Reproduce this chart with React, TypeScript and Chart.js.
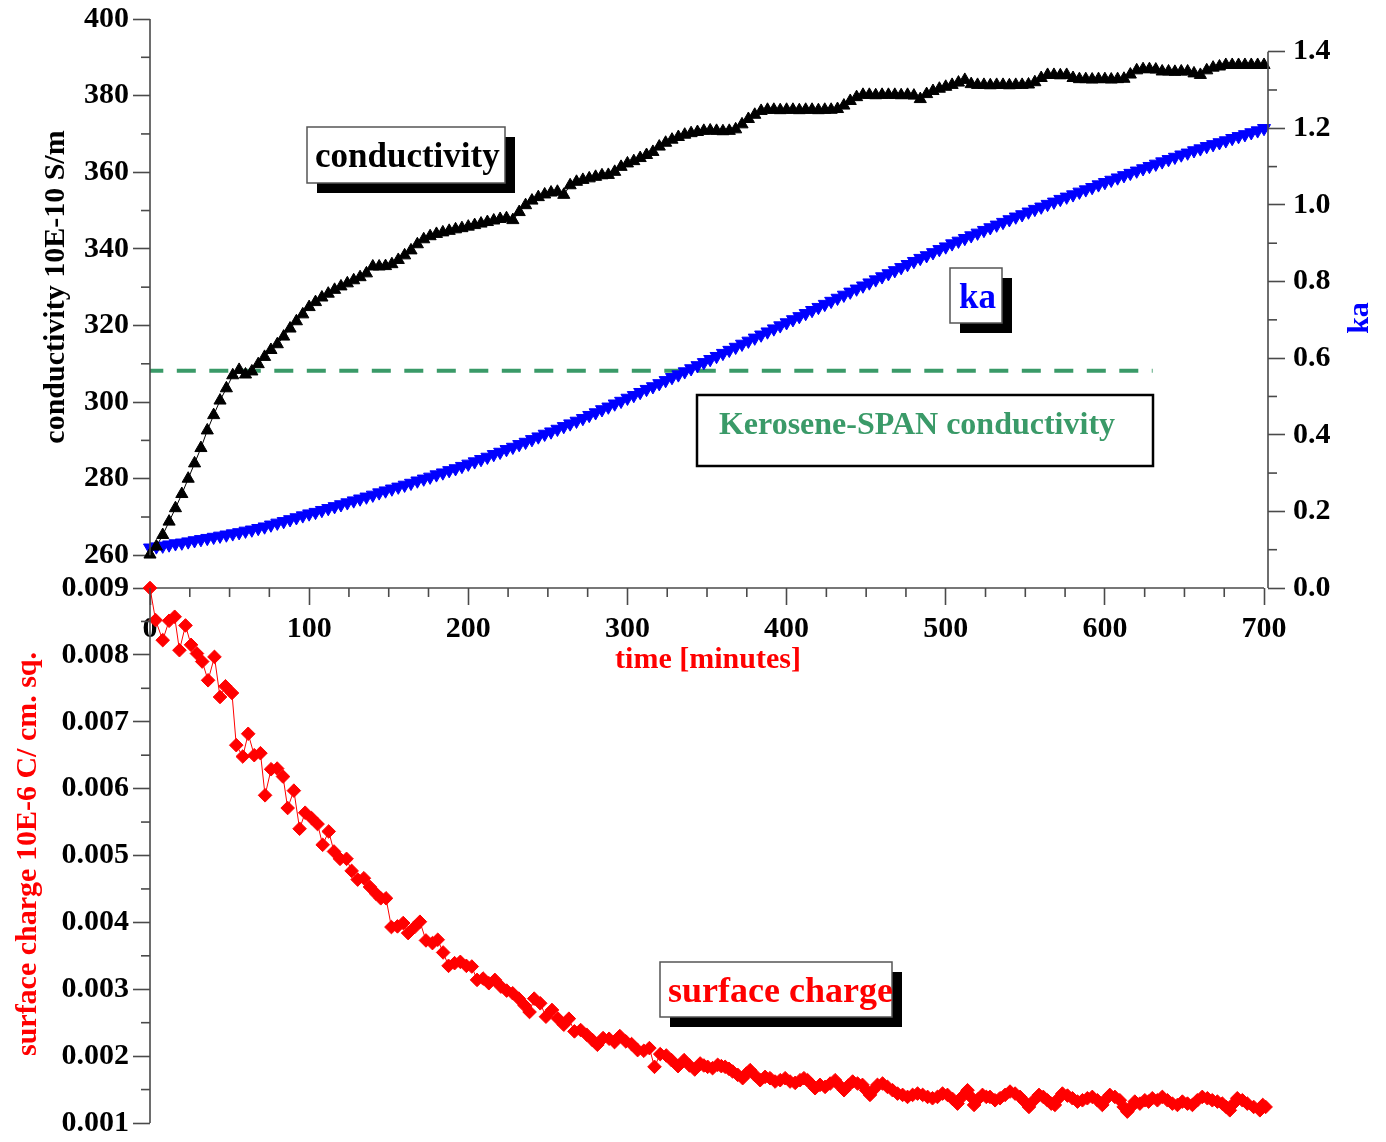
import React, { useEffect, useRef } from "react";
import { Chart, registerables } from "chart.js";

Chart.register(...registerables);

const W = 1386;
const H = 1142;
const SERIF = "'Liberation Serif', 'Times New Roman', Times, serif";
const AXIS_COLOR = "#4a4a4a";
const GREEN = "#3a9a68";

// ---------------- data ----------------
const TIME_MIN = [
  0, 4, 8, 12, 16, 20, 24, 28, 32, 36,
  40, 44, 48, 52, 56, 60, 64, 68, 72, 76,
  80, 84, 88, 92, 96, 100, 104, 108, 112, 116,
  120, 124, 128, 132, 136, 140, 144, 148, 152, 156,
  160, 164, 168, 172, 176, 180, 184, 188, 192, 196,
  200, 204, 208, 212, 216, 220, 224, 228, 232, 236,
  240, 244, 248, 252, 256, 260, 264, 268, 272, 276,
  280, 284, 288, 292, 296, 300, 304, 308, 312, 316,
  320, 324, 328, 332, 336, 340, 344, 348, 352, 356,
  360, 364, 368, 372, 376, 380, 384, 388, 392, 396,
  400, 404, 408, 412, 416, 420, 424, 428, 432, 436,
  440, 444, 448, 452, 456, 460, 464, 468, 472, 476,
  480, 484, 488, 492, 496, 500, 504, 508, 512, 516,
  520, 524, 528, 532, 536, 540, 544, 548, 552, 556,
  560, 564, 568, 572, 576, 580, 584, 588, 592, 596,
  600, 604, 608, 612, 616, 620, 624, 628, 632, 636,
  640, 644, 648, 652, 656, 660, 664, 668, 672, 676,
  680, 684, 688, 692, 696, 700,
];

const CONDUCTIVITY = [
  260.2, 262.3, 265.3, 268.8, 272.3, 276.0, 280.0, 284.0, 288.0, 292.6,
  296.6, 300.4, 303.6, 307.0, 308.4, 307.2, 308.0, 309.9, 311.8, 313.6,
  315.1, 317.1, 319.2, 321.1, 322.9, 324.8, 326.1, 327.3, 328.3, 329.3,
  330.2, 331.0, 331.8, 332.6, 333.6, 335.4, 335.4, 335.5, 336.0, 337.1,
  338.3, 339.6, 341.2, 342.5, 343.3, 343.9, 344.3, 344.7, 345.1, 345.4,
  345.8, 346.2, 346.6, 347.0, 347.4, 347.8, 348.0, 347.5, 349.6, 351.4,
  352.6, 353.5, 354.2, 354.7, 354.9, 354.1, 356.6, 357.5, 358.0, 358.4,
  358.8, 359.2, 359.3, 360.1, 361.4, 362.3, 362.9, 363.7, 364.5, 365.3,
  366.7, 367.7, 368.5, 369.2, 369.8, 370.2, 370.5, 370.8, 370.9, 370.8,
  370.7, 370.8, 371.2, 372.5, 373.9, 375.0, 376.0, 376.3, 376.3, 376.2,
  376.3, 376.3, 376.2, 376.3, 376.3, 376.2, 376.3, 376.3, 376.5, 377.4,
  378.6, 379.6, 380.2, 380.2, 380.1, 380.2, 380.2, 380.2, 380.1, 380.2,
  380.0, 379.1, 380.4, 381.2, 381.8, 382.3, 382.8, 383.4, 384.1, 383.0,
  382.8, 382.8, 382.7, 382.8, 382.8, 382.7, 382.8, 382.8, 382.9, 383.5,
  384.6, 385.4, 385.4, 385.3, 385.4, 384.6, 384.3, 384.3, 384.2, 384.3,
  384.3, 384.2, 384.3, 384.4, 385.5, 386.6, 386.9, 386.9, 386.8, 386.3,
  386.3, 386.2, 386.3, 386.3, 385.8, 385.4, 386.6, 387.3, 387.6, 388.0,
  388.0, 388.0, 388.0, 388.0, 388.0, 388.0,
];

const KA = [
  0.105, 0.108, 0.110, 0.113, 0.116, 0.118, 0.121, 0.124, 0.127, 0.130,
  0.133, 0.136, 0.139, 0.142, 0.145, 0.149, 0.152, 0.156, 0.160, 0.165,
  0.170, 0.174, 0.179, 0.184, 0.189, 0.194, 0.198, 0.203, 0.208, 0.213,
  0.218, 0.223, 0.228, 0.233, 0.238, 0.243, 0.249, 0.254, 0.259, 0.264,
  0.269, 0.274, 0.280, 0.285, 0.290, 0.296, 0.301, 0.307, 0.312, 0.318,
  0.324, 0.330, 0.336, 0.342, 0.349, 0.355, 0.362, 0.368, 0.375, 0.381,
  0.388, 0.395, 0.402, 0.408, 0.415, 0.422, 0.429, 0.436, 0.443, 0.451,
  0.458, 0.466, 0.473, 0.481, 0.488, 0.496, 0.503, 0.511, 0.519, 0.526,
  0.534, 0.542, 0.550, 0.557, 0.565, 0.573, 0.581, 0.589, 0.597, 0.605,
  0.613, 0.621, 0.629, 0.637, 0.645, 0.653, 0.661, 0.669, 0.677, 0.685,
  0.693, 0.701, 0.709, 0.717, 0.725, 0.733, 0.741, 0.749, 0.757, 0.765,
  0.773, 0.781, 0.789, 0.797, 0.805, 0.813, 0.821, 0.829, 0.837, 0.845,
  0.853, 0.861, 0.868, 0.876, 0.884, 0.891, 0.899, 0.906, 0.913, 0.920,
  0.927, 0.934, 0.941, 0.948, 0.955, 0.962, 0.969, 0.975, 0.982, 0.989,
  0.995, 1.002, 1.008, 1.015, 1.021, 1.027, 1.034, 1.040, 1.046, 1.053,
  1.059, 1.065, 1.071, 1.077, 1.083, 1.089, 1.095, 1.101, 1.107, 1.113,
  1.119, 1.125, 1.131, 1.136, 1.142, 1.147, 1.153, 1.158, 1.163, 1.168,
  1.174, 1.179, 1.184, 1.189, 1.194, 1.200,
];

const SC_TIME_MIN = [
  0, 3.5, 8, 12, 15.5, 18.5, 22.3, 25.8, 29.5, 32.8,
  36.5, 40.5, 44, 47.4, 51.5, 54.2, 58.3, 61.7, 65.5, 69.4,
  72.3, 76.1, 79.9, 83.6, 86.5, 90.4, 94, 97.5, 101.5, 105.3,
  108.5, 112.3, 115.6, 119.4, 123.5, 126.7, 130.5, 134.4, 138.2, 142,
  145, 148.3, 151.7, 155.5, 159.1, 162.2, 166.3, 169.6, 173.4, 177.5,
  180.8, 184.2, 187.6, 191.4, 195, 198.8, 202.2, 205.5, 209.3, 212.9,
  216.7, 220.5, 224.1, 227.9, 231.7, 235.3, 238.5, 241.4, 245.2, 248.8,
  252.6, 256.4, 260, 263.2, 266.7, 270.6, 274.4, 278, 281.1, 284.7,
  288.5, 291.9, 295.2, 299, 302.6, 306.4, 310.3, 313.8, 317, 320.6,
  324.4, 327.7, 331.8, 335.6, 339, 342.3,
  345.7, 348, 350.4, 353.5, 356.7, 359, 361.4, 363.8, 366.1, 369.3,
  372.4, 374.8, 377.1, 380.3, 383.4, 386.5, 389.6, 392.8, 396, 399.1,
  402.2, 405.4, 408.5, 410.9, 413.2, 415.6, 417.9, 421, 424.2, 427.4,
  430.5, 433.3, 436.1, 438.8, 441.5, 444.6, 447.7, 450, 452.4, 454.8,
  457.1, 460.3, 463.4, 466.6, 469.7, 472.9, 476, 479.2, 482.3, 485.5,
  488.6, 491.7, 494.8, 498, 501.1, 504.3, 507.4, 510.6, 513.7, 515.8,
  517.8, 520.5, 523.1, 525.5, 527.8, 531, 534.1, 537.3, 540.4, 543.6,
  546.7, 549.5, 552.3, 555.5, 558.6, 561.3, 563.9, 566.3, 568.6, 571,
  573.3, 576.5, 579.6, 582.8, 585.9, 589, 592.1, 595.3, 598.4, 600.8,
  603.1, 606.3, 609.4, 611.8, 614.1, 616.5, 618.8, 622, 625.1, 627.5,
  629.8, 633, 636.1, 639.3, 642.4, 645.6, 648.7, 651.9, 655, 658.1,
  661.2, 664.4, 667.5, 670.7, 673.8, 676.2, 678.5, 680.9, 683.2, 686.4,
  689.5, 693.5, 697.4, 699.2, 701,
];

const SURFACE_CHARGE = [
  0.00900, 0.00852, 0.00822, 0.00851, 0.00857, 0.00807, 0.00844, 0.00815, 0.00802, 0.00790,
  0.00762, 0.00797, 0.00737, 0.00753, 0.00743, 0.00665, 0.00648, 0.00682, 0.00650, 0.00653,
  0.00590, 0.00629, 0.00630, 0.00618, 0.00571, 0.00597, 0.00540, 0.00564, 0.00556, 0.00547,
  0.00516, 0.00536, 0.00506, 0.00495, 0.00495, 0.00477, 0.00464, 0.00466, 0.00453, 0.00443,
  0.00436, 0.00436, 0.00393, 0.00394, 0.00399, 0.00384, 0.00393, 0.00401, 0.00373, 0.00369,
  0.00374, 0.00355, 0.00335, 0.00339, 0.00341, 0.00335, 0.00334, 0.00314, 0.00316, 0.00309,
  0.00314, 0.00304, 0.00298, 0.00294, 0.00286, 0.00276, 0.00266, 0.00286, 0.00279, 0.00259,
  0.00269, 0.00256, 0.00247, 0.00256, 0.00237, 0.00239, 0.00232, 0.00224, 0.00217, 0.00227,
  0.00226, 0.00221, 0.00230, 0.00222, 0.00218, 0.00209, 0.00208, 0.00212, 0.00184, 0.00203,
  0.00201, 0.00194, 0.00185, 0.00194, 0.00186, 0.00180,
  0.00189, 0.00186, 0.00184, 0.00182, 0.00187, 0.00185, 0.00184, 0.00181, 0.00177, 0.00172,
  0.00167, 0.00174, 0.00179, 0.00171, 0.00164, 0.00169, 0.00167, 0.00162, 0.00164, 0.00167,
  0.00162, 0.00160, 0.00164, 0.00167, 0.00164, 0.00158, 0.00152, 0.00157, 0.00154, 0.00159,
  0.00164, 0.00156, 0.00149, 0.00156, 0.00162, 0.00159, 0.00157, 0.00149, 0.00142, 0.00150,
  0.00157, 0.00159, 0.00154, 0.00149, 0.00144, 0.00142, 0.00139, 0.00142, 0.00144, 0.00142,
  0.00139, 0.00137, 0.00139, 0.00144, 0.00142, 0.00136, 0.00129, 0.00140, 0.00149, 0.00139,
  0.00127, 0.00136, 0.00142, 0.00139, 0.00139, 0.00134, 0.00137, 0.00142, 0.00147, 0.00144,
  0.00139, 0.00132, 0.00124, 0.00134, 0.00142, 0.00139, 0.00134, 0.00129, 0.00127, 0.00137,
  0.00144, 0.00141, 0.00137, 0.00132, 0.00134, 0.00137, 0.00139, 0.00134, 0.00127, 0.00136,
  0.00142, 0.00139, 0.00134, 0.00124, 0.00117, 0.00124, 0.00132, 0.00129, 0.00134, 0.00132,
  0.00137, 0.00134, 0.00139, 0.00134, 0.00129, 0.00127, 0.00132, 0.00129, 0.00127, 0.00134,
  0.00139, 0.00137, 0.00134, 0.00132, 0.00129, 0.00124, 0.00119, 0.00129, 0.00137, 0.00134,
  0.00129, 0.00124, 0.00119, 0.00127, 0.00124,
];

const KEROSENE_TIME = [0, 630];
const KEROSENE_COND = [308.2, 308.2];

// ---------------- axes ----------------
const X_RANGE = [0, 702.5];
const X_TICKS = [0, 100, 200, 300, 400, 500, 600, 700];
const X_MINOR = [25, 50, 75, 125, 150, 175, 225, 250, 275, 325, 350, 375, 425, 450, 475, 525, 550, 575, 625, 650, 675];
const COND_RANGE = [251.47, 400];
const COND_TICKS = [260, 280, 300, 320, 340, 360, 380, 400];
const COND_MINOR = [270, 290, 310, 330, 350, 370, 390];
const KA_RANGE = [0, 1.4853];
const KA_TICKS = [0, 0.2, 0.4, 0.6, 0.8, 1.0, 1.2, 1.4];
const KA_MINOR = [0.1, 0.3, 0.5, 0.7, 0.9, 1.1, 1.3];
const SC_RANGE = [0.001, 0.009];
const SC_TICKS = [0.001, 0.002, 0.003, 0.004, 0.005, 0.006, 0.007, 0.008, 0.009];
const SC_MINOR = [0.0015, 0.0025, 0.0035, 0.0045, 0.0055, 0.0065, 0.0075, 0.0085];

const tickFont = { family: SERIF, size: 30, weight: "bold" as const };

function linScale(position: string, range: number[], ticks: number[], fmt: (v: number) => string, size: number, padding: number) {
  return {
    type: "linear",
    position,
    min: range[0],
    max: range[1],
    afterFit: (s: any) => {
      if (position === "left" || position === "right") s.width = size;
      else s.height = size;
      s.paddingTop = 0;
      s.paddingBottom = 0;
      s.paddingLeft = 0;
      s.paddingRight = 0;
    },
    afterBuildTicks: (s: any) => {
      s.ticks = ticks.map((v) => ({ value: v }));
    },
    grid: {
      display: true,
      drawOnChartArea: false,
      drawTicks: true,
      tickLength: 17,
      tickColor: AXIS_COLOR,
      tickWidth: 1.6,
    },
    border: { display: false },
    ticks: {
      autoSkip: false,
      maxRotation: 0,
      padding,
      color: "#000",
      font: tickFont,
      callback: (v: any) => fmt(Number(v)),
    },
  };
}

function seg(ctx: CanvasRenderingContext2D, x0: number, y0: number, x1: number, y1: number) {
  ctx.beginPath();
  ctx.moveTo(x0, y0);
  ctx.lineTo(x1, y1);
  ctx.stroke();
}

function vText(ctx: CanvasRenderingContext2D, text: string, x: number, y: number, color: string, size: number) {
  ctx.save();
  ctx.translate(x, y);
  ctx.rotate(-Math.PI / 2);
  ctx.font = `bold ${size}px ${SERIF}`;
  ctx.fillStyle = color;
  ctx.textAlign = "center";
  ctx.textBaseline = "alphabetic";
  ctx.fillText(text, 0, 0);
  ctx.restore();
}

function shadowBox(ctx: CanvasRenderingContext2D, x0: number, y0: number, x1: number, y1: number, shadow: number) {
  if (shadow > 0) {
    ctx.fillStyle = "#000";
    ctx.fillRect(x0 + shadow, y0 + shadow, x1 - x0, y1 - y0);
  }
  ctx.fillStyle = "#fff";
  ctx.fillRect(x0, y0, x1 - x0, y1 - y0);
}

const topDecor = {
  id: "topDecor",
  afterDraw(chart: any) {
    const ctx: CanvasRenderingContext2D = chart.ctx;
    const { x, y, y2 } = chart.scales;
    const { left, right, bottom } = chart.chartArea;
    ctx.save();
    ctx.strokeStyle = AXIS_COLOR;
    ctx.lineWidth = 1.6;
    seg(ctx, left, y.getPixelForValue(COND_TICKS[COND_TICKS.length - 1]), left, y.getPixelForValue(COND_TICKS[0]));
    seg(ctx, right, y2.getPixelForValue(KA_TICKS[KA_TICKS.length - 1]), right, y2.getPixelForValue(KA_TICKS[0]));
    seg(ctx, x.getPixelForValue(X_TICKS[0]), bottom, x.getPixelForValue(X_TICKS[X_TICKS.length - 1]), bottom);
    COND_MINOR.forEach((v) => {
      const p = y.getPixelForValue(v);
      seg(ctx, left - 9, p, left, p);
    });
    KA_MINOR.forEach((v) => {
      const p = y2.getPixelForValue(v);
      seg(ctx, right, p, right + 9, p);
    });
    X_MINOR.forEach((v) => {
      const p = x.getPixelForValue(v);
      seg(ctx, p, bottom, p, bottom + 9);
    });

    // axis titles
    vText(ctx, "conductivity 10E-10 S/m", 64, 287, "#000", 30);
    vText(ctx, "ka", 1368, 318, "#0000ff", 30);
    ctx.font = `bold 30px ${SERIF}`;
    ctx.fillStyle = "#ff0000";
    ctx.textAlign = "center";
    ctx.textBaseline = "alphabetic";
    ctx.fillText("time [minutes]", 708, 668);

    // "conductivity" label box
    shadowBox(ctx, 307, 127, 505, 183, 10);
    ctx.strokeStyle = "#555";
    ctx.lineWidth = 1.5;
    ctx.strokeRect(307, 127, 198, 56);
    ctx.font = `bold 35px ${SERIF}`;
    ctx.fillStyle = "#000";
    ctx.textAlign = "left";
    ctx.fillText("conductivity", 315, 167);

    // "ka" label box
    shadowBox(ctx, 950, 268, 1002, 323, 10);
    ctx.strokeRect(950, 268, 52, 55);
    ctx.fillStyle = "#0000ff";
    ctx.fillText("ka", 959, 308);

    // Kerosene box
    ctx.fillStyle = "#fff";
    ctx.fillRect(697, 395, 456, 71);
    ctx.strokeStyle = "#000";
    ctx.lineWidth = 2.5;
    ctx.strokeRect(697, 395, 456, 71);
    ctx.font = `bold 32px ${SERIF}`;
    ctx.fillStyle = GREEN;
    ctx.textAlign = "center";
    ctx.fillText("Kerosene-SPAN conductivity", 917, 434);
    ctx.restore();
  },
};

const bottomDecor = {
  id: "bottomDecor",
  afterDraw(chart: any) {
    const ctx: CanvasRenderingContext2D = chart.ctx;
    const { y } = chart.scales;
    const { left } = chart.chartArea;
    ctx.save();
    ctx.strokeStyle = AXIS_COLOR;
    ctx.lineWidth = 1.6;
    seg(ctx, left, y.getPixelForValue(SC_TICKS[SC_TICKS.length - 1]), left, y.getPixelForValue(SC_TICKS[0]));
    SC_MINOR.forEach((v) => {
      const p = y.getPixelForValue(v);
      seg(ctx, left - 9, p, left, p);
    });
    vText(ctx, "surface charge 10E-6 C/ cm. sq.", 36, 854, "#ff0000", 30);

    shadowBox(ctx, 660, 962, 892, 1017, 10);
    ctx.strokeStyle = "#555";
    ctx.lineWidth = 1.5;
    ctx.strokeRect(660, 962, 232, 55);
    ctx.font = `bold 36px ${SERIF}`;
    ctx.fillStyle = "#ff0000";
    ctx.textAlign = "left";
    ctx.textBaseline = "alphabetic";
    ctx.fillText("surface charge", 668, 1002);
    ctx.restore();
  },
};

function topConfig(): any {
  return {
    type: "line",
    data: {
      datasets: [
        {
          label: "conductivity",
          data: TIME_MIN.map((t, i) => ({ x: t, y: CONDUCTIVITY[i] })),
          xAxisID: "x",
          yAxisID: "y",
          borderColor: "#000",
          backgroundColor: "#000",
          borderWidth: 1,
          pointStyle: "triangle",
          pointRadius: 7,
          pointBorderWidth: 1,
          pointBackgroundColor: "#000",
          pointBorderColor: "#000",
          clip: false,
          order: 0,
        },
        {
          label: "ka",
          data: TIME_MIN.map((t, i) => ({ x: t, y: KA[i] })),
          xAxisID: "x",
          yAxisID: "y2",
          borderColor: "#0000ff",
          backgroundColor: "#0000ff",
          borderWidth: 1,
          pointStyle: "triangle",
          pointRotation: 180,
          pointRadius: 7.5,
          pointBorderWidth: 1,
          pointBackgroundColor: "#0000ff",
          pointBorderColor: "#0000ff",
          clip: false,
          order: 1,
        },
        {
          label: "Kerosene-SPAN conductivity",
          data: KEROSENE_TIME.map((t, i) => ({ x: t, y: KEROSENE_COND[i] })),
          xAxisID: "x",
          yAxisID: "y",
          borderColor: GREEN,
          borderWidth: 4,
          borderDash: [19, 13.5],
          borderDashOffset: 5.7,
          pointRadius: 0,
          clip: false,
          order: 2,
        },
      ],
    },
    options: {
      responsive: false,
      animation: false,
      events: [],
      layout: { padding: { top: 19, left: 0, right: 0, bottom: 0 } },
      plugins: { legend: { display: false }, tooltip: { enabled: false } },
      scales: {
        x: linScale("bottom", X_RANGE, X_TICKS, (v) => String(v), H - 588, 6),
        y: linScale("left", COND_RANGE, COND_TICKS, (v) => String(v), 150, 4),
        y2: linScale("right", KA_RANGE, KA_TICKS, (v) => v.toFixed(1), W - 1268, 8),
      },
    },
    plugins: [topDecor],
  };
}

function bottomConfig(): any {
  return {
    type: "line",
    data: {
      datasets: [
        {
          label: "surface charge",
          data: SC_TIME_MIN.map((t, i) => ({ x: t, y: SURFACE_CHARGE[i] })),
          borderColor: "#ff0000",
          backgroundColor: "#ff0000",
          borderWidth: 1,
          pointStyle: "rectRot",
          pointRadius: 6.8,
          pointBorderWidth: 1,
          pointBackgroundColor: "#ff0000",
          pointBorderColor: "#ff0000",
          clip: false,
        },
      ],
    },
    options: {
      responsive: false,
      animation: false,
      events: [],
      layout: { padding: { top: 588, left: 0, right: W - 1268, bottom: H - 1123 } },
      plugins: { legend: { display: false }, tooltip: { enabled: false } },
      scales: {
        x: { type: "linear", min: X_RANGE[0], max: X_RANGE[1], display: false },
        y: linScale("left", SC_RANGE, SC_TICKS, (v) => v.toFixed(3), 150, 4),
      },
    },
    plugins: [bottomDecor],
  };
}

export default function App() {
  const topRef = useRef<HTMLCanvasElement>(null);
  const botRef = useRef<HTMLCanvasElement>(null);
  useEffect(() => {
    const top = new Chart(topRef.current as HTMLCanvasElement, topConfig());
    const bot = new Chart(botRef.current as HTMLCanvasElement, bottomConfig());
    return () => {
      top.destroy();
      bot.destroy();
    };
  }, []);
  const cs: React.CSSProperties = { position: "absolute", left: 0, top: 0, width: W, height: H };
  return (
    <div style={{ position: "fixed", left: 0, top: 0, width: W, height: H, background: "#fff", overflow: "hidden" }}>
      <canvas ref={topRef} width={W} height={H} style={cs} />
      <canvas ref={botRef} width={W} height={H} style={cs} />
    </div>
  );
}
